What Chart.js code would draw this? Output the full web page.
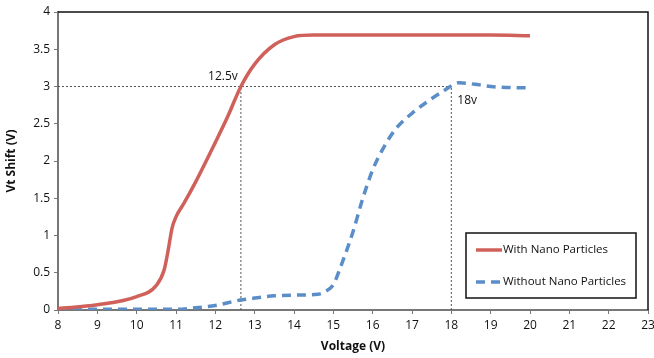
<!DOCTYPE html>
<html>
<head>
<meta charset="utf-8">
<script src="https://cdn.jsdelivr.net/npm/chart.js@4/dist/chart.umd.min.js"></script>
<style>
  html, body { margin: 0; padding: 0; background: #fff; }
  #wrap { width: 654px; height: 358px; }
</style>
</head>
<body>
<div id="wrap"><canvas id="vtChart"></canvas></div>
<script>
// values
const voltsWith = [8, 9, 10, 10.5, 10.7, 10.8, 10.9, 11, 11.2, 11.5, 12, 12.3, 12.65, 13, 13.5, 14, 14.5, 15, 16, 17, 18, 19, 20];
const shiftWith = [0.02, 0.07, 0.18, 0.33, 0.54, 0.8, 1.1, 1.25, 1.43, 1.72, 2.25, 2.58, 3.0, 3.3, 3.56, 3.67, 3.69, 3.69, 3.69, 3.69, 3.69, 3.69, 3.68];
const voltsWithout = [8, 9, 10, 11, 11.5, 12, 12.6, 13, 13.5, 14, 14.6, 14.8, 15, 15.2, 15.5, 15.75, 16, 16.3, 16.6, 17, 17.4, 17.8, 18.2, 18.6, 19, 20];
const shiftWithout = [0.01, 0.01, 0.01, 0.01, 0.03, 0.06, 0.13, 0.16, 0.19, 0.2, 0.21, 0.25, 0.34, 0.6, 1.05, 1.5, 1.88, 2.2, 2.44, 2.64, 2.8, 2.94, 3.05, 3.03, 3.0, 2.98];
const seriesNames = ["With Nano Particles", "Without Nano Particles"];

// dotted guide lines and their labels
const guideLevel = 3;
const guideVolts = [12.65, 18];
const guideLabels = ["12.5v", "18v"];

const toPts = (xs, ys) => xs.map((x, i) => ({ x: x, y: ys[i] }));

const red = "#d0605a";
const blue = "#5b8ec8";
const guideStyle = { borderColor: "#555", borderWidth: 1, borderDash: [2, 2], pointRadius: 0, tension: 0, isGuide: true };

const guides = [
  Object.assign({ data: [{ x: 8, y: guideLevel }, { x: guideVolts[1], y: guideLevel }] }, guideStyle),
  Object.assign({ data: [{ x: guideVolts[0], y: 0 }, { x: guideVolts[0], y: guideLevel }] }, guideStyle),
  Object.assign({ data: [{ x: guideVolts[1], y: 0 }, { x: guideVolts[1], y: guideLevel }] }, guideStyle)
];

// box, legend and the little text labels
const extras = {
  id: "extras",
  afterDatasetsDraw(chart) {
    const ctx = chart.ctx;
    const a = chart.chartArea;
    const xs = chart.scales.x, ys = chart.scales.y;
    ctx.save();
    // frame top/right in black
    ctx.strokeStyle = "#111";
    ctx.lineWidth = 1.5;
    ctx.beginPath();
    ctx.moveTo(a.left, a.top);
    ctx.lineTo(a.right, a.top);
    ctx.lineTo(a.right, a.bottom);
    ctx.stroke();

    // guide labels
    ctx.fillStyle = "#111";
    ctx.font = "12px 'Open Sans'";
    ctx.textBaseline = "alphabetic";
    ctx.textAlign = "center";
    ctx.fillText(guideLabels[0], xs.getPixelForValue(guideVolts[0]) - 18, ys.getPixelForValue(guideLevel) - 7);
    ctx.textAlign = "left";
    ctx.fillText(guideLabels[1], xs.getPixelForValue(guideVolts[1]) + 6, ys.getPixelForValue(guideLevel) + 17);

    // legend box
    const bx = 466, by = 233, bw = 170, bh = 65;
    ctx.fillStyle = "#fff";
    ctx.fillRect(bx, by, bw, bh);
    ctx.strokeStyle = "#111";
    ctx.lineWidth = 1.5;
    ctx.strokeRect(bx, by, bw, bh);
    const rows = [by + 17, by + 49];
    chart.data.datasets.filter(d => !d.isGuide).forEach((d, i) => {
      ctx.strokeStyle = d.borderColor;
      ctx.lineWidth = 3.5;
      ctx.setLineDash(d.borderDash || []);
      ctx.beginPath();
      ctx.moveTo(bx + 10, rows[i]);
      ctx.lineTo(bx + 36, rows[i]);
      ctx.stroke();
      ctx.setLineDash([]);
      ctx.fillStyle = "#111";
      ctx.font = "11.5px 'Open Sans'";
      ctx.textBaseline = "middle";
      ctx.fillText(d.label, bx + 37, rows[i]);
    });
    ctx.restore();
  }
};

new Chart("vtChart", {
  type: "line",
  data: {
    datasets: [
      {
        label: seriesNames[0],
        data: toPts(voltsWith, shiftWith),
        borderColor: red,
        borderWidth: 3.5,
        pointRadius: 0,
        cubicInterpolationMode: "monotone"
      },
      {
        label: seriesNames[1],
        data: toPts(voltsWithout, shiftWithout),
        borderColor: blue,
        borderWidth: 3.5,
        borderDash: [9, 6],
        pointRadius: 0,
        cubicInterpolationMode: "monotone"
      }
    ].concat(guides)
  },
  options: {
    responsive: true,
    maintainAspectRatio: false,
    animation: false,
    layout: { padding: { top: 12, right: 0 } },
    plugins: {
      legend: { display: false },
      tooltip: { enabled: false }
    },
    scales: {
      x: {
        type: "linear",
        min: 8,
        max: 23,
        ticks: { stepSize: 1, color: "#111", font: { family: "Open Sans", size: 12 }, padding: 4 },
        grid: { drawOnChartArea: false, tickLength: 4, color: "#777" },
        border: { color: "#777", width: 2 },
        title: { display: true, text: "Voltage (V)", color: "#111", font: { family: "Open Sans", size: 12, weight: "bold" }, padding: { top: 0 } },
        afterFit(s) { s.height = 48; s.paddingRight = 6; }
      },
      y: {
        min: 0,
        max: 4,
        ticks: { stepSize: 0.5, color: "#111", font: { family: "Open Sans", size: 12 }, padding: 4, callback: v => String(v) },
        grid: { drawOnChartArea: false, tickLength: 4, color: "#777" },
        border: { color: "#777", width: 2 },
        title: { display: true, text: "Vt Shift (V)", color: "#111", font: { family: "Open Sans", size: 12, weight: "bold" }, padding: { bottom: 2 } },
        afterFit(s) { s.width = 58; }
      }
    }
  },
  plugins: [extras]
});
</script>
</body>
</html>
